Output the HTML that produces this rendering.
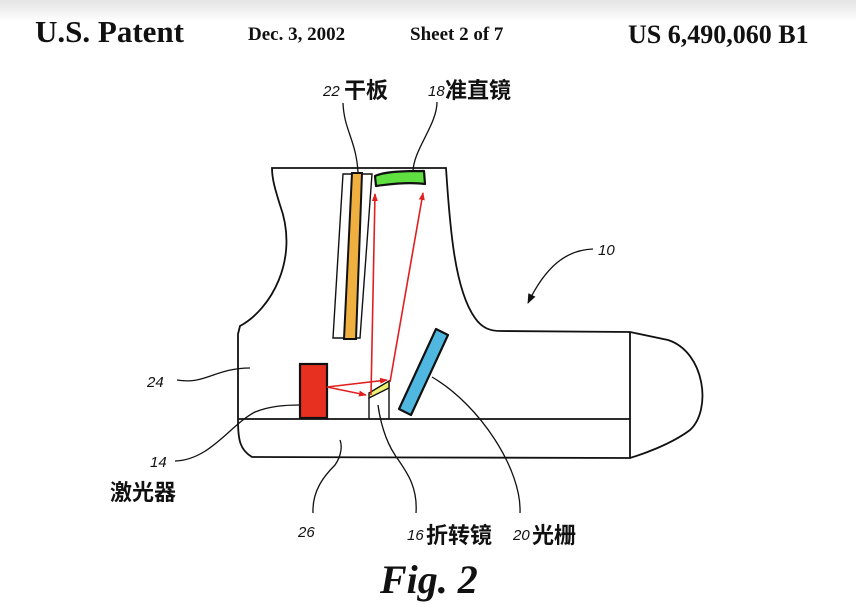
<!DOCTYPE html>
<html><head><meta charset="utf-8"><style>
html,body{margin:0;padding:0;}
body{width:856px;height:610px;overflow:hidden;background:linear-gradient(#e4e4e4 0px,#fff 22px,#fff 100%);position:relative;font-family:"Liberation Serif",serif;}
.h{position:absolute;font-weight:bold;color:#111;white-space:nowrap;}
</style></head><body>
<div class="h" style="left:35px;top:14px;font-size:31px;">U.S. Patent</div>
<div class="h" style="left:248px;top:24px;font-size:19px;">Dec. 3, 2002</div>
<div class="h" style="left:410px;top:24px;font-size:19px;">Sheet 2 of 7</div>
<div class="h" style="left:628px;top:20px;font-size:26px;">US 6,490,060 B1</div>
<svg width="856" height="610" style="position:absolute;left:0;top:0" xmlns="http://www.w3.org/2000/svg">
<defs><marker id="a" markerWidth="8" markerHeight="8" refX="7" refY="4" orient="auto" markerUnits="userSpaceOnUse"><path d="M0,1 L8,4 L0,7 Z" fill="#e02020"/></marker>
<marker id="b" markerWidth="10" markerHeight="10" refX="9" refY="5" orient="auto" markerUnits="userSpaceOnUse"><path d="M0,1 L10,5 L0,9 Z" fill="#111"/></marker></defs>
<g fill="none" stroke="#111" stroke-width="1.8">
<path d="M272,168 L446,168 C450,230 455,290 475,318 C482,328 490,331 500,331 L630,332 L668,340 C705,352 712,410 690,430 C670,445 640,455 630,458 L252,457 C240,450 238,440 238,420 L238,334 L240,326 C270,310 300,260 280,205 C276,192 272,180 272,168 Z"/>
<path d="M630,332 L630,458 M238,419 L630,419"/>
<path d="M369,398 L369,419 M389,383 L389,419" stroke-width="1.4"/>
<path d="M343,103 C344,130 356,140 358,172" stroke-width="1.3"/>
<path d="M437,102 C437,125 413,150 413,172" stroke-width="1.3"/>
<path d="M593,249 C565,250 545,268 528,303" stroke-width="1.3" marker-end="url(#b)"/>
<path d="M177,380 C205,385 215,368 250,368" stroke-width="1.3"/>
<path d="M175,461 C210,460 230,425 255,412 C270,406 285,405 300,405" stroke-width="1.3"/>
<path d="M313,513 C312,490 325,475 335,465 C342,455 342,445 340,440" stroke-width="1.3"/>
<path d="M416,513 C418,485 405,470 395,455 C385,440 380,420 378,405" stroke-width="1.3"/>
<path d="M520,513 C522,470 480,405 432,377" stroke-width="1.3"/>
</g>
<path d="M343,174 L372,174 L360,338 L333,338 Z" fill="#fff" stroke="#111" stroke-width="1.4"/>
<path d="M352,173 L362,173 L356,339 L344,339 Z" fill="#f0b040" stroke="#111" stroke-width="2"/>
<path d="M375,176 C385,171 410,171 424,171 L425,184 C410,182 390,184 376,186 Z" fill="#5fe040" stroke="#111" stroke-width="2.2" stroke-linejoin="round"/>
<rect x="300" y="364" width="27" height="54" fill="#e83020" stroke="#111" stroke-width="2.2"/>
<path d="M369,393 L389,381 L389,388 L369,398 Z" fill="#eeee70" stroke="#111" stroke-width="1.4"/>
<path d="M436,329 L448,335 L411,415 L399,409 Z" fill="#50b8e0" stroke="#111" stroke-width="2.2" stroke-linejoin="round"/>
<g stroke="#e02020" stroke-width="1.6" fill="none">
<line x1="327" y1="387" x2="387" y2="380" marker-end="url(#a)"/>
<line x1="327" y1="387" x2="366" y2="395" marker-end="url(#a)"/>
<line x1="371" y1="395" x2="375" y2="194" marker-end="url(#a)"/>
<line x1="390" y1="382" x2="423" y2="193" marker-end="url(#a)"/>
</g>
<g font-family="Liberation Sans, sans-serif" font-style="italic" font-size="15" fill="#111">
<text x="323" y="96">22</text><text x="428" y="96">18</text>
<text x="598" y="255">10</text><text x="147" y="387">24</text>
<text x="150" y="467">14</text><text x="298" y="537">26</text>
<text x="407" y="540">16</text><text x="513" y="540">20</text>
</g>
<g font-family="Liberation Sans, 'Noto Sans CJK SC', sans-serif" font-weight="bold" font-size="22" fill="#111">
<text x="344" y="98">干板</text><text x="445" y="98">准直镜</text>
<text x="110" y="500">激光器</text><text x="426" y="543">折转镜</text>
<text x="532" y="543">光栅</text>
</g>
<text x="380" y="593" font-family="Liberation Serif, serif" font-style="italic" font-weight="bold" font-size="40" fill="#111">Fig. 2</text>
</svg>
</body></html>
